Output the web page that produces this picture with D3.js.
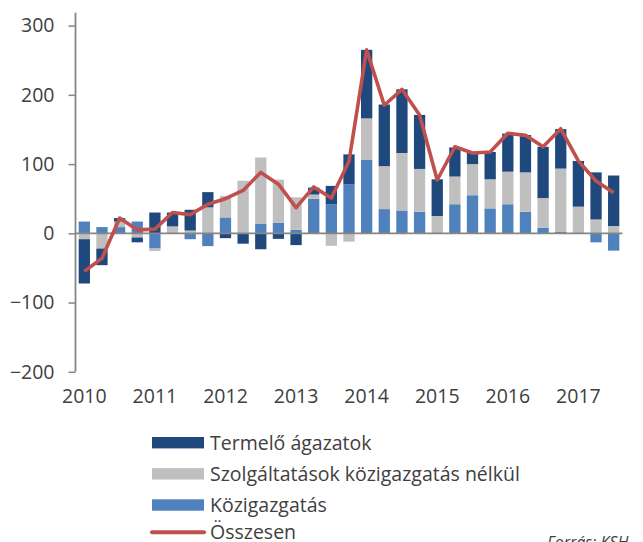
<!DOCTYPE html>
<html>
<head>
<meta charset="utf-8">
<script src="https://cdn.jsdelivr.net/npm/d3@7"></script>
<style>
  html, body { margin: 0; padding: 0; background: #fff; }
  svg { display: block; }
  text { font-family: "Open Sans", "Noto Sans", sans-serif; fill: #404040; }
</style>
</head>
<body>
<svg id="chart" width="643" height="542"></svg>
<script>
const years = [2010, 2011, 2012, 2013, 2014, 2015, 2016, 2017];
const quarters = [];
years.forEach(y => [1,2,3,4].forEach(q => { if (!(y === 2017 && q === 4)) quarters.push(y + " Q" + q); }));

const termelo = [-64, -24, 5, -7, 30, 20, 30, 22, -7, -15, -23, -8, -17, 10, 26.5, 43,
                 99, 89, 92, 78, 53, 42, 17, 39.5, 55, 54, 74, 57, 66, 68, 73];
const szolg   = [-8.5, -22, 8, -6, -3.5, 10, 4, 37.5, 31, 76, 96, 62, 47, 6, -18, -12,
                 60, 62, 83, 62, 25, 40, 45, 42, 47, 57, 43, 91.5, 38.5, 20, 10.5];
const kozig   = [17, 9, 9, 17, -22, 0, -8.5, -18.5, 23, 0, 13.5, 15.5, 5, 50, 42, 71,
                 106, 35, 33, 31, 0, 42, 55, 36, 42, 31, 8, 2, 0, -13, -25];
const osszesen = [-55, -36, 22, 5, 6, 30, 27, 42, 50, 62, 88, 71, 37, 67, 51, 104,
                  265, 185, 208, 171, 77, 125, 116, 117.5, 144.5, 141.5, 125, 151, 104.5, 75.5, 58.5];
const yTicks = [-200, -100, 0, 100, 200, 300];

const seriesNames = ["Közigazgatás", "Szolgáltatások közigazgatás nélkül", "Termelő ágazatok"];
const colors = { "Közigazgatás": "#4F81BD", "Szolgáltatások közigazgatás nélkül": "#BFBFBF", "Termelő ágazatok": "#1F497D" };
const lineColor = "#C0504D";

const rows = quarters.map((q, i) => ({
  q,
  "Közigazgatás": kozig[i],
  "Szolgáltatások közigazgatás nélkül": szolg[i],
  "Termelő ágazatok": termelo[i],
  total: osszesen[i]
}));

const svg = d3.select("#chart");
const x = d3.scaleBand().domain(quarters).range([75.5, 622.5]).paddingInner(0.36).paddingOuter(0.18);
const y = d3.scaleLinear().domain([-200, 300]).range([371.8, 25.6]);

const stack = d3.stack().keys(seriesNames).offset(d3.stackOffsetDiverging);
const stacked = stack(rows);

svg.append("g").selectAll("g").data(stacked).join("g")
  .attr("fill", d => colors[d.key])
  .selectAll("rect").data(d => d).join("rect")
  .attr("x", d => x(d.data.q))
  .attr("width", x.bandwidth())
  .attr("y", d => y(Math.max(d[0], d[1])))
  .attr("height", d => Math.abs(y(d[0]) - y(d[1])));

// zero line
svg.append("line")
  .attr("x1", 75).attr("x2", 622.5)
  .attr("y1", y(0)).attr("y2", y(0))
  .attr("stroke", "#868686").attr("stroke-width", 1.8);

// y axis
const yAxis = d3.axisLeft(y).tickValues(yTicks).tickSize(7).tickPadding(14).tickSizeOuter(0);
const ga = svg.append("g").attr("transform", "translate(75.5,0)").call(yAxis);
ga.select(".domain").attr("stroke", "#868686").attr("stroke-width", 1.8)
  .attr("d", `M0,12.7V${y(-200)}`);
ga.selectAll(".tick line").attr("stroke", "#868686").attr("stroke-width", 1.5);
ga.selectAll(".tick text").attr("font-size", "19.5px").attr("fill", "#404040")
  .style("font-family", "'Open Sans', sans-serif");

// x labels (years at Q1)
const xAxis = d3.axisBottom(x)
  .tickValues(quarters.filter(q => q.endsWith("Q1")))
  .tickFormat(q => q.slice(0, 4))
  .tickSize(0).tickPadding(0);
const gx = svg.append("g").attr("transform", "translate(0,389)").call(xAxis);
gx.select(".domain").remove();
gx.selectAll(".tick text").attr("font-size", "19.5px").attr("fill", "#404040").attr("dy", "0.71em")
  .style("font-family", "'Open Sans', sans-serif");

// total line
const line = d3.line().x(d => x(d.q) + x.bandwidth() / 2).y(d => y(d.total));
svg.append("path").datum(rows)
  .attr("fill", "none").attr("stroke", lineColor).attr("stroke-width", 3.6)
  .attr("stroke-linejoin", "round")
  .attr("d", line);

// legend
const legendItems = [
  { name: "Termelő ágazatok", type: "rect", color: colors["Termelő ágazatok"], cy: 442.7 },
  { name: "Szolgáltatások közigazgatás nélkül", type: "rect", color: colors["Szolgáltatások közigazgatás nélkül"], cy: 473.8 },
  { name: "Közigazgatás", type: "rect", color: colors["Közigazgatás"], cy: 505 },
  { name: "Összesen", type: "line", color: lineColor, cy: 532.3 }
];
const lg = svg.append("g");
legendItems.forEach(it => {
  const cy = it.cy;
  if (it.type === "rect") {
    lg.append("rect").attr("x", 152).attr("y", cy - 5.7).attr("width", 52).attr("height", 11.4).attr("fill", it.color);
  } else {
    lg.append("line").attr("x1", 152).attr("x2", 204).attr("y1", cy).attr("y2", cy)
      .attr("stroke", it.color).attr("stroke-width", 4).attr("stroke-linecap", "round");
  }
  lg.append("text").attr("x", 210).attr("y", cy + 7)
    .attr("font-size", "19.5px").attr("fill", "#404040").text(it.name);
});

svg.append("text").attr("x", 547).attr("y", 548)
  .attr("font-size", "16px").attr("font-style", "italic").attr("fill", "#595959")
  .text("Forrás: KSH");
</script>
</body>
</html>
